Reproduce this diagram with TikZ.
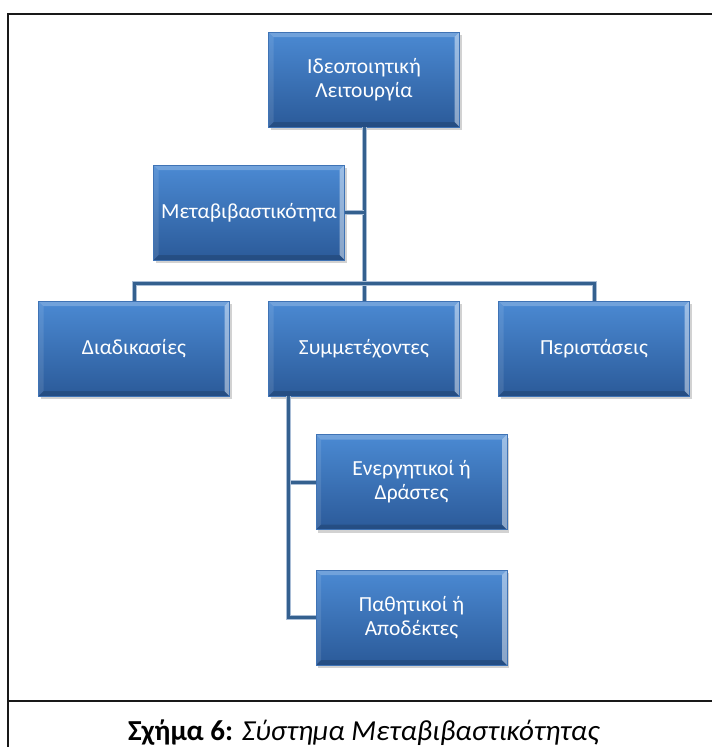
\documentclass[tikz,border=0pt]{standalone}
\usepackage{fontspec}
\setmainfont{Carlito}
\usetikzlibrary{shadows}

\definecolor{boxtop}{HTML}{4B8AD3}
\definecolor{boxbot}{HTML}{2B5A99}
\definecolor{boxedge}{HTML}{3F73B5}
\definecolor{linecore}{HTML}{34608F}
\definecolor{lineglow}{HTML}{A9BDD6}

\tikzset{
  x=1pt, y=-1pt,
  orgbox/.style={
    rectangle, minimum width=191pt, minimum height=95pt, inner sep=0pt,
    top color=boxtop, bottom color=boxbot, draw=boxedge, line width=0.6pt,
    text=white, align=center, font=\fontsize{21.5}{24}\selectfont,
    drop shadow={opacity=0.35, shadow xshift=2pt, shadow yshift=-3pt},
    path picture={
      % bevelled rim: light top and right edge, dark bottom edge
      \fill[white, opacity=0.22]
        (path picture bounding box.north west) -- (path picture bounding box.north east)
        -- ([xshift=-5pt,yshift=-5pt]path picture bounding box.north east)
        -- ([xshift=5pt,yshift=-5pt]path picture bounding box.north west) -- cycle;
      \fill[white, opacity=0.45]
        (path picture bounding box.north east) -- (path picture bounding box.south east)
        -- ([xshift=-5pt,yshift=5pt]path picture bounding box.south east)
        -- ([xshift=-5pt,yshift=-5pt]path picture bounding box.north east) -- cycle;
      \fill[white, opacity=0.10]
        (path picture bounding box.north west) -- (path picture bounding box.south west)
        -- ([xshift=5pt,yshift=5pt]path picture bounding box.south west)
        -- ([xshift=5pt,yshift=-5pt]path picture bounding box.north west) -- cycle;
      \fill[black, opacity=0.15]
        (path picture bounding box.south west) -- (path picture bounding box.south east)
        -- ([xshift=-5pt,yshift=5pt]path picture bounding box.south east)
        -- ([xshift=5pt,yshift=5pt]path picture bounding box.south west) -- cycle;
    }
  },
  conn/.style={line width=3pt, draw=linecore, preaction={draw=lineglow, line width=5pt}},
  frame/.style={line width=1.5pt, draw=black!90}
}

\begin{document}
\begin{tikzpicture}
\useasboundingbox (0,0) rectangle (712,747);
\fill[white] (0,0) rectangle (712,747);

% outer frame and caption divider
\draw[frame] (8,750) -- (8,14) -- (715,14);
\draw[frame] (8,701) -- (715,701);

% connector anchors
\coordinate (hub) at (364,283);
\coordinate (sb) at (288,0);

% boxes
\node[orgbox] (ideo) at (364,79.5) {Ιδεοποιητική\\Λειτουργία};
\node[orgbox] (meta) at (249,212.5) {Μεταβιβαστικότητα};
\node[orgbox] (diad) at (134,348.5) {Διαδικασίες};
\node[orgbox] (symm) at (364,348.5) {Συμμετέχοντες};
\node[orgbox] (peri) at (594,348.5) {Περιστάσεις};
\node[orgbox] (ener) at (411.5,482) {Ενεργητικοί ή\\Δράστες};
\node[orgbox] (path) at (411.5,617.5) {Παθητικοί ή\\Αποδέκτες};

% connectors
\draw[conn] (ideo.south) -- (symm.north);
\draw[conn] (meta.east) -- (meta.east -| ideo.south);
\draw[conn] (diad.north) |- (hub) -| (peri.north);
\draw[conn] (symm.south -| sb) |- (ener.west);
\draw[conn] (symm.south -| sb) |- (path.west);

% caption
\node[font=\fontsize{29}{32}\selectfont, anchor=base] (cap) at (364,740)
  {\textbf{Σχήμα 6:} \textit{Σύστημα Μεταβιβαστικότητας}};
\end{tikzpicture}
\end{document}
